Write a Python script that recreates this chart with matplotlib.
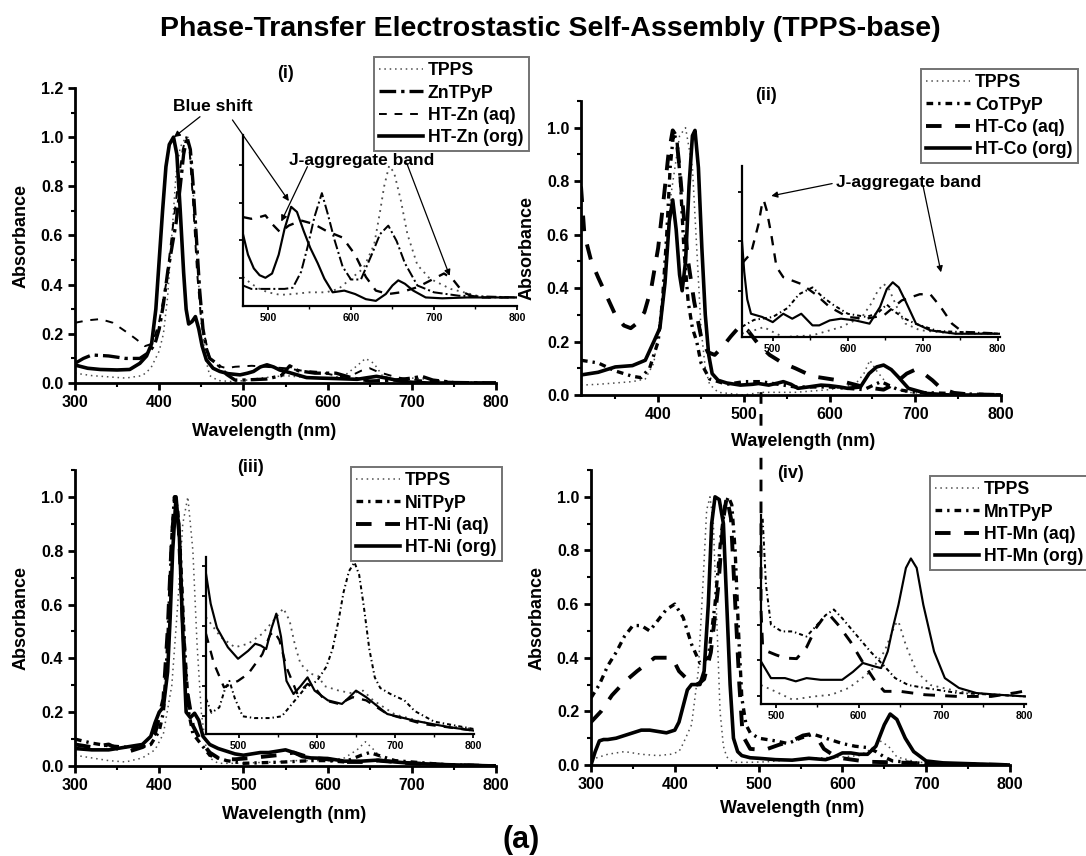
import numpy as np
import matplotlib.pyplot as plt
from matplotlib.ticker import MultipleLocator, FixedLocator, FormatStrFormatter

plt.rcParams['font.family'] = ['Liberation Sans', 'DejaVu Sans']
plt.rcParams['font.weight'] = 'bold'
plt.rcParams['axes.labelweight'] = 'bold'
plt.rcParams['axes.linewidth'] = 2.0

# ---------------- panel (i): TPPS / ZnTPyP / HT-Zn ----------------
i_tpps_x = [300, 320, 340, 360, 380, 390, 400, 405, 410, 415, 420, 425, 430, 434, 438, 442, 446, 450, 455, 460, 470, 490, 500, 520, 550, 580, 600, 620, 635, 645, 655, 665, 680, 700, 720, 740, 800]
i_tpps_y = [0.04, 0.03, 0.025, 0.02, 0.03, 0.06, 0.13, 0.2, 0.35, 0.6, 0.85, 0.96, 0.99, 1.0, 0.9, 0.7, 0.45, 0.25, 0.1, 0.03, 0.01, 0.005, 0.01, 0.02, 0.03, 0.02, 0.02, 0.03, 0.07, 0.1, 0.08, 0.03, 0.01, 0.02, 0.015, 0.005, 0.0]
i_zn_x = [300, 310, 320, 340, 360, 377, 388, 395, 400, 405, 410, 415, 420, 425, 429, 433, 437, 440, 444, 448, 452, 456, 460, 470, 480, 490, 500, 527, 545, 555, 565, 585, 610, 630, 650, 680, 700, 712, 725, 750, 800]
i_zn_y = [0.08, 0.1, 0.114, 0.11, 0.1, 0.1, 0.125, 0.16, 0.22, 0.32, 0.45, 0.55, 0.65, 0.8, 0.93, 1.0, 0.95, 0.82, 0.6, 0.38, 0.22, 0.14, 0.1, 0.075, 0.035, 0.012, 0.012, 0.016, 0.03, 0.07, 0.05, 0.04, 0.04, 0.02, 0.008, 0.012, 0.02, 0.027, 0.012, 0.002, 0.0]
i_aq_x = [300, 315, 330, 345, 360, 372, 383, 392, 400, 408, 415, 422, 428, 432, 436, 440, 445, 450, 460, 470, 480, 490, 510, 530, 550, 570, 590, 610, 625, 640, 650, 660, 680, 694, 720, 800]
i_aq_y = [0.245, 0.255, 0.26, 0.245, 0.21, 0.18, 0.15, 0.16, 0.25, 0.4, 0.6, 0.8, 0.95, 1.0, 0.95, 0.75, 0.45, 0.25, 0.1, 0.07, 0.06, 0.066, 0.07, 0.065, 0.06, 0.05, 0.045, 0.03, 0.025, 0.05, 0.06, 0.045, 0.025, 0.016, 0.008, 0.0]
i_org_x = [300, 315, 330, 350, 365, 377, 385, 391, 396, 400, 404, 408, 412, 417, 421, 425, 429, 432, 435, 439, 443, 447, 451, 456, 464, 472, 482, 496, 505, 512, 520, 528, 536, 543, 552, 560, 575, 590, 610, 635, 648, 658, 670, 686, 700, 720, 800]
i_org_y = [0.073, 0.06, 0.055, 0.053, 0.055, 0.08, 0.11, 0.16, 0.3, 0.5, 0.7, 0.88, 0.97, 1.0, 0.93, 0.7, 0.45, 0.3, 0.24, 0.25, 0.27, 0.22, 0.15, 0.094, 0.06, 0.047, 0.038, 0.033, 0.04, 0.047, 0.065, 0.074, 0.065, 0.053, 0.045, 0.037, 0.022, 0.02, 0.018, 0.015, 0.022, 0.027, 0.02, 0.008, 0.003, 0.0, 0.0]

# inset (i), relative units
i_tpps_ins_x = [470, 480, 490, 500, 515, 530, 550, 570, 585, 600, 615, 628, 635, 640, 646, 652, 660, 668, 680, 695, 720, 760, 800]
i_tpps_ins_y = [0.17, 0.13, 0.1, 0.08, 0.065, 0.07, 0.08, 0.08, 0.1, 0.16, 0.22, 0.36, 0.55, 0.7, 0.82, 0.78, 0.62, 0.42, 0.24, 0.16, 0.1, 0.05, 0.05]
i_zn_ins_x = [470, 480, 500, 520, 530, 540, 548, 556, 565, 572, 580, 590, 600, 612, 625, 635, 645, 655, 665, 680, 700, 730, 800]
i_zn_ins_y = [0.12, 0.1, 0.1, 0.1, 0.107, 0.2, 0.35, 0.52, 0.66, 0.54, 0.39, 0.23, 0.155, 0.155, 0.3, 0.42, 0.47, 0.38, 0.25, 0.12, 0.08, 0.06, 0.05]
i_aq_ins_x = [470, 480, 490, 497, 505, 515, 525, 540, 555, 570, 590, 605, 618, 630, 645, 660, 680, 700, 712, 722, 735, 750, 800]
i_aq_ins_y = [0.52, 0.51, 0.52, 0.53, 0.48, 0.43, 0.47, 0.5, 0.48, 0.44, 0.4, 0.3, 0.17, 0.09, 0.07, 0.08, 0.11, 0.16, 0.19, 0.16, 0.08, 0.05, 0.05]
i_org_ins_x = [470, 476, 483, 490, 497, 505, 513, 520, 528, 535, 543, 551, 560, 568, 578, 592, 605, 618, 630, 642, 650, 657, 665, 675, 690, 710, 740, 800]
i_org_ins_y = [0.42, 0.3, 0.22, 0.18, 0.165, 0.19, 0.3, 0.45, 0.58, 0.55, 0.44, 0.34, 0.25, 0.16, 0.08, 0.09, 0.07, 0.04, 0.03, 0.07, 0.12, 0.15, 0.13, 0.09, 0.05, 0.045, 0.05, 0.05]

# ---------------- panel (ii): TPPS / CoTPyP / HT-Co ----------------
ii_tpps_x = [310, 330, 350, 370, 385, 395, 405, 415, 425, 432, 440, 445, 450, 455, 460, 470, 500, 520, 560, 600, 630, 640, 647, 655, 670, 690, 720, 800]
ii_tpps_y = [0.037, 0.04, 0.045, 0.05, 0.06, 0.12, 0.35, 0.75, 0.97, 1.0, 0.85, 0.55, 0.25, 0.1, 0.04, 0.01, 0.0, 0.01, 0.01, 0.02, 0.04, 0.08, 0.13, 0.09, 0.03, 0.01, 0.005, 0.0]
ii_co_x = [310, 330, 350, 370, 380, 390, 400, 405, 410, 414, 418, 422, 426, 430, 435, 440, 445, 450, 460, 480, 500, 520, 540, 560, 600, 640, 660, 680, 700, 800]
ii_co_y = [0.13, 0.12, 0.09, 0.07, 0.065, 0.1, 0.2, 0.35, 0.6, 0.85, 0.98, 0.95, 0.8, 0.55, 0.35, 0.25, 0.2, 0.12, 0.06, 0.04, 0.05, 0.05, 0.04, 0.03, 0.03, 0.02, 0.05, 0.02, 0.01, 0.0]
ii_aq_x = [310, 314, 322, 330, 340, 350, 360, 368, 376, 384, 392, 400, 406, 412, 417, 421, 425, 429, 435, 442, 450, 458, 466, 475, 485, 496, 505, 517, 530, 545, 560, 580, 610, 640, 663, 675, 690, 700, 710, 720, 730, 745, 760, 800]
ii_aq_y = [0.78, 0.6, 0.5, 0.44, 0.37, 0.3, 0.26, 0.25, 0.27, 0.31, 0.4, 0.55, 0.72, 0.9, 0.99, 0.97, 0.85, 0.7, 0.5, 0.35, 0.22, 0.16, 0.15, 0.18, 0.22, 0.26, 0.24, 0.19, 0.15, 0.12, 0.1, 0.07, 0.055, 0.03, 0.02, 0.04, 0.08, 0.095, 0.08, 0.055, 0.025, 0.008, 0.003, 0.0]
ii_org_x = [310, 330, 350, 370, 385, 395, 402, 408, 413, 417, 421, 425, 428, 432, 436, 440, 443, 447, 451, 455, 459, 463, 470, 480, 496, 510, 517, 529, 540, 546, 555, 563, 575, 590, 600, 612, 621, 636, 646, 655, 663, 672, 680, 692, 713, 740, 800]
ii_org_y = [0.075, 0.085, 0.105, 0.11, 0.13, 0.2, 0.25, 0.42, 0.65, 0.73, 0.62, 0.45, 0.39, 0.5, 0.78, 0.97, 0.99, 0.85, 0.55, 0.3, 0.15, 0.08, 0.055, 0.045, 0.037, 0.04, 0.043, 0.037, 0.045, 0.05, 0.04, 0.025, 0.03, 0.037, 0.035, 0.03, 0.025, 0.03, 0.08, 0.105, 0.112, 0.095, 0.068, 0.025, 0.006, 0.0, 0.0]

ii_tpps_ins_x = [459, 476, 488, 500, 514, 553, 591, 619, 632, 640, 648, 655, 662, 670, 677, 696, 740, 803]
ii_tpps_ins_y = [0.02, 0.04, 0.058, 0.03, 0.0, 0.01, 0.058, 0.117, 0.2, 0.27, 0.31, 0.28, 0.21, 0.13, 0.078, 0.04, 0.02, 0.019]
ii_co_ins_x = [459, 475, 500, 520, 535, 553, 565, 580, 600, 625, 640, 652, 662, 675, 690, 720, 803]
ii_co_ins_y = [0.06, 0.1, 0.117, 0.17, 0.25, 0.29, 0.24, 0.19, 0.136, 0.117, 0.14, 0.19, 0.15, 0.11, 0.078, 0.035, 0.019]
ii_aq_ins_x = [459, 471, 481, 485, 488, 492, 498, 505, 514, 538, 557, 576, 600, 624, 648, 672, 696, 710, 724, 739, 753, 803]
ii_aq_ins_y = [0.43, 0.49, 0.66, 0.76, 0.8, 0.74, 0.6, 0.41, 0.35, 0.31, 0.25, 0.175, 0.117, 0.107, 0.126, 0.214, 0.25, 0.25, 0.175, 0.078, 0.03, 0.02]
ii_org_ins_x = [459, 462, 466, 471, 486, 500, 514, 526, 538, 553, 562, 576, 591, 610, 629, 643, 652, 660, 668, 677, 691, 710, 744, 803]
ii_org_ins_y = [0.56, 0.38, 0.22, 0.136, 0.117, 0.087, 0.136, 0.107, 0.136, 0.068, 0.068, 0.097, 0.107, 0.097, 0.078, 0.175, 0.28, 0.32, 0.29, 0.21, 0.078, 0.039, 0.019, 0.019]

# ---------------- panel (iii): TPPS / NiTPyP / HT-Ni ----------------
iii_tpps_x = [300, 320, 340, 360, 380, 395, 405, 415, 422, 428, 434, 440, 445, 450, 455, 460, 470, 490, 510, 540, 560, 600, 620, 635, 645, 655, 665, 690, 720, 800]
iii_tpps_y = [0.04, 0.03, 0.02, 0.015, 0.03, 0.06, 0.12, 0.3, 0.6, 0.9, 1.0, 0.8, 0.45, 0.2, 0.08, 0.03, 0.01, 0.01, 0.012, 0.015, 0.02, 0.02, 0.03, 0.06, 0.09, 0.06, 0.025, 0.01, 0.005, 0.0]
iii_ni_x = [300, 320, 340, 360, 380, 390, 400, 405, 410, 415, 418, 422, 425, 430, 435, 440, 445, 450, 460, 480, 500, 520, 550, 580, 600, 620, 640, 650, 660, 680, 700, 740, 800]
iii_ni_y = [0.1, 0.085, 0.075, 0.07, 0.07, 0.08, 0.13, 0.2, 0.45, 0.85, 1.0, 0.95, 0.8, 0.45, 0.2, 0.12, 0.1, 0.08, 0.04, 0.02, 0.01, 0.012, 0.015, 0.02, 0.02, 0.015, 0.04, 0.05, 0.04, 0.02, 0.015, 0.005, 0.0]
iii_aq_x = [300, 320, 340, 360, 380, 395, 405, 410, 415, 419, 423, 427, 432, 440, 450, 460, 470, 480, 490, 510, 525, 540, 560, 580, 600, 620, 640, 660, 680, 700, 740, 800]
iii_aq_y = [0.08, 0.07, 0.08, 0.05, 0.07, 0.12, 0.25, 0.5, 0.85, 1.0, 0.9, 0.6, 0.3, 0.15, 0.09, 0.05, 0.03, 0.025, 0.025, 0.03, 0.035, 0.04, 0.05, 0.03, 0.025, 0.015, 0.015, 0.02, 0.015, 0.01, 0.004, 0.0]
iii_org_x = [300, 320, 340, 360, 380, 390, 395, 400, 405, 410, 413, 416, 420, 424, 428, 432, 437, 442, 447, 452, 460, 470, 480, 490, 500, 510, 520, 530, 540, 550, 560, 570, 580, 600, 620, 640, 660, 680, 700, 740, 800]
iii_org_y = [0.065, 0.06, 0.06, 0.07, 0.08, 0.11, 0.16, 0.2, 0.22, 0.35, 0.55, 0.8, 1.0, 0.85, 0.5, 0.2, 0.18, 0.196, 0.17, 0.11, 0.08, 0.065, 0.055, 0.045, 0.04, 0.045, 0.05, 0.05, 0.055, 0.06, 0.05, 0.035, 0.03, 0.028, 0.018, 0.018, 0.022, 0.015, 0.01, 0.005, 0.0]

iii_tpps_ins_x = [458, 477, 495, 512, 530, 548, 557, 565, 572, 579, 592, 601, 610, 628, 645, 659, 672, 700, 745, 801]
iii_tpps_ins_y = [0.66, 0.547, 0.49, 0.51, 0.566, 0.66, 0.71, 0.64, 0.5, 0.396, 0.34, 0.33, 0.27, 0.245, 0.23, 0.245, 0.19, 0.11, 0.057, 0.028]
iii_ni_ins_x = [458, 465, 475, 482, 488, 495, 505, 520, 540, 555, 570, 585, 600, 612, 620, 628, 634, 641, 648, 654, 660, 667, 674, 681, 694, 712, 725, 750, 801]
iii_ni_ins_y = [0.2, 0.12, 0.15, 0.25, 0.3, 0.2, 0.1, 0.09, 0.09, 0.1, 0.18, 0.26, 0.3, 0.38, 0.48, 0.65, 0.8, 0.92, 0.97, 0.9, 0.72, 0.48, 0.32, 0.26, 0.226, 0.19, 0.13, 0.07, 0.028]
iii_aq_ins_x = [458, 468, 481, 499, 512, 530, 540, 545, 552, 561, 575, 588, 597, 610, 628, 646, 663, 690, 735, 801]
iii_aq_ins_y = [0.566, 0.4, 0.264, 0.3, 0.34, 0.45, 0.56, 0.58, 0.53, 0.377, 0.226, 0.283, 0.264, 0.19, 0.17, 0.208, 0.19, 0.113, 0.057, 0.019]
iii_org_ins_x = [458, 464, 472, 486, 499, 512, 521, 528, 535, 542, 548, 554, 561, 570, 579, 588, 597, 614, 632, 642, 650, 663, 690, 725, 770, 801]
iii_org_ins_y = [0.906, 0.736, 0.6, 0.49, 0.425, 0.47, 0.51, 0.5, 0.48, 0.6, 0.68, 0.55, 0.3, 0.226, 0.27, 0.32, 0.245, 0.19, 0.17, 0.21, 0.245, 0.208, 0.113, 0.075, 0.038, 0.019]

# ---------------- panel (iv): TPPS / MnTPyP / HT-Mn ----------------
iv_tpps_x = [300, 320, 340, 360, 380, 395, 405, 410, 420, 428, 434, 438, 442, 446, 450, 454, 458, 462, 470, 490, 510, 540, 560, 600, 620, 635, 645, 655, 665, 690, 800]
iv_tpps_y = [0.02, 0.04, 0.05, 0.04, 0.035, 0.04, 0.05, 0.08, 0.15, 0.35, 0.7, 0.95, 1.0, 0.9, 0.55, 0.2, 0.07, 0.03, 0.01, 0.01, 0.012, 0.02, 0.025, 0.03, 0.035, 0.06, 0.09, 0.07, 0.03, 0.01, 0.0]
iv_mn_x = [300, 310, 320, 330, 340, 350, 360, 370, 380, 390, 400, 410, 420, 430, 440, 448, 455, 460, 464, 468, 472, 476, 480, 485, 490, 500, 520, 535, 550, 565, 580, 600, 615, 630, 640, 650, 660, 680, 700, 800]
iv_mn_y = [0.25, 0.3, 0.37, 0.42, 0.48, 0.52, 0.52, 0.5, 0.54, 0.58, 0.6, 0.55, 0.45, 0.38, 0.4, 0.6, 0.85, 0.97, 1.0, 0.97, 0.8, 0.5, 0.25, 0.15, 0.12, 0.1, 0.09, 0.08, 0.1, 0.115, 0.1, 0.08, 0.07, 0.065, 0.05, 0.03, 0.015, 0.01, 0.005, 0.0]
iv_aq_x = [300, 312, 325, 340, 355, 376, 397, 405, 418, 427, 435, 443, 452, 458, 462, 467, 471, 477, 481, 490, 507, 524, 540, 553, 562, 570, 578, 590, 600, 630, 660, 700, 800]
iv_aq_y = [0.16, 0.2, 0.26, 0.31, 0.35, 0.4, 0.4, 0.35, 0.31, 0.3, 0.32, 0.42, 0.67, 0.92, 1.0, 0.92, 0.67, 0.3, 0.11, 0.06, 0.056, 0.075, 0.09, 0.11, 0.115, 0.1, 0.06, 0.035, 0.025, 0.012, 0.01, 0.005, 0.0]
iv_org_x = [300, 305, 310, 315, 320, 330, 340, 350, 360, 370, 380, 390, 400, 405, 410, 415, 420, 425, 430, 435, 440, 444, 448, 453, 458, 462, 466, 470, 475, 480, 490, 500, 520, 540, 560, 580, 590, 600, 610, 620, 630, 640, 650, 657, 665, 675, 685, 700, 720, 800]
iv_org_y = [0.0, 0.05, 0.09, 0.095, 0.095, 0.1, 0.11, 0.12, 0.13, 0.13, 0.125, 0.12, 0.13, 0.16, 0.22, 0.28, 0.3, 0.3, 0.3, 0.35, 0.6, 0.9, 1.0, 0.99, 0.9, 0.6, 0.3, 0.1, 0.05, 0.035, 0.027, 0.025, 0.02, 0.018, 0.025, 0.02, 0.03, 0.045, 0.045, 0.04, 0.04, 0.07, 0.15, 0.19, 0.17, 0.1, 0.05, 0.015, 0.008, 0.0]

iv_tpps_ins_x = [482, 499, 520, 546, 567, 588, 614, 631, 644, 648, 657, 670, 687, 720, 765, 802]
iv_tpps_ins_y = [0.1, 0.067, 0.023, 0.04, 0.049, 0.085, 0.17, 0.278, 0.42, 0.437, 0.31, 0.17, 0.1, 0.067, 0.049, 0.04]
iv_mn_ins_x = [484, 488, 494, 507, 520, 537, 550, 560, 570, 580, 597, 614, 631, 644, 660, 680, 720, 765, 802]
iv_mn_ins_y = [0.98, 0.63, 0.42, 0.384, 0.384, 0.357, 0.42, 0.47, 0.5, 0.454, 0.366, 0.278, 0.2, 0.137, 0.1, 0.085, 0.058, 0.049, 0.04]
iv_aq_ins_x = [482, 482, 484, 490, 500, 511, 525, 537, 548, 558, 565, 575, 590, 605, 620, 631, 650, 680, 720, 760, 790, 802]
iv_aq_ins_y = [1.65, 0.5, 0.3, 0.278, 0.26, 0.243, 0.24, 0.3, 0.4, 0.46, 0.47, 0.42, 0.33, 0.22, 0.12, 0.067, 0.067, 0.049, 0.04, 0.04, 0.06, 0.07]
iv_org_ins_x = [482, 494, 511, 524, 537, 554, 580, 593, 605, 618, 627, 635, 641, 648, 657, 663, 670, 678, 691, 704, 721, 742, 768, 802]
iv_org_ins_y = [0.225, 0.137, 0.137, 0.12, 0.137, 0.128, 0.128, 0.17, 0.217, 0.2, 0.19, 0.278, 0.4, 0.525, 0.72, 0.77, 0.72, 0.525, 0.278, 0.137, 0.085, 0.058, 0.049, 0.04]

W, H = 1086, 856
fig = plt.figure(figsize=(W / 100, H / 100), dpi=100)


def px_axes(l, t, r, b):
    return fig.add_axes([l / W, 1 - b / H, (r - l) / W, (b - t) / H])


st_tpps = dict(color='0.3', lw=1.1, ls=(0, (1, 2.5)))
st_zn = dict(color='k', lw=2.4, ls=(0, (5, 1.5, 1, 1.5)))
st_zn_aq = dict(color='k', lw=1.4, ls=(0, (4, 4)))
st_dd = dict(color='k', lw=2.4, ls=(0, (2, 1.5, 0.7, 1.5)))
st_aq = dict(color='k', lw=2.8, ls=(0, (4, 3.5)))
st_org = dict(color='k', lw=2.6, ls='-')


def thin(st, f=0.6):
    d = dict(st)
    d['lw'] = st['lw'] * f
    return d


def style_main(ax, xlim, ylim, xlab_x, xlab_y):
    ax.set_xlim(*xlim)
    ax.set_ylim(*ylim)
    ax.patch.set_alpha(0)
    for s in ['top', 'right']:
        ax.spines[s].set_visible(False)
    ax.xaxis.set_major_locator(MultipleLocator(100))
    ax.xaxis.set_minor_locator(MultipleLocator(50))
    ax.yaxis.set_major_locator(MultipleLocator(0.2))
    ax.yaxis.set_minor_locator(MultipleLocator(0.1))
    ax.yaxis.set_major_formatter(FormatStrFormatter('%.1f'))
    ax.tick_params(which='major', direction='out', length=5, width=2, labelsize=11.5)
    ax.tick_params(which='minor', direction='out', length=3, width=1.5)
    ax.set_xlabel('Wavelength (nm)', fontsize=13)
    ax.set_ylabel('Absorbance', fontsize=13, labelpad=8)
    ax.xaxis.set_label_coords(xlab_x, xlab_y)


def style_inset(ax, xlim, yt):
    ax.set_xlim(*xlim)
    ax.set_ylim(0, 1)
    ax.patch.set_alpha(0)
    for s in ['top', 'right']:
        ax.spines[s].set_visible(False)
    for s in ['left', 'bottom']:
        ax.spines[s].set_linewidth(1.6)
    ax.xaxis.set_major_locator(MultipleLocator(100))
    ax.xaxis.set_minor_locator(MultipleLocator(50))
    ax.yaxis.set_major_locator(FixedLocator(yt))
    ax.set_yticklabels([])
    ax.tick_params(which='major', direction='out', length=3, width=1.3, labelsize=7.5, pad=2)
    ax.tick_params(which='minor', direction='out', length=2, width=1.0)


def add_legend(ax, l, t):
    leg = ax.legend(loc='upper left', bbox_to_anchor=(l / W, 1 - t / H),
                    bbox_transform=fig.transFigure, borderaxespad=0,
                    prop={'weight': 'bold', 'size': 12.7}, handlelength=2.5,
                    handletextpad=0.25, borderpad=0.3, labelspacing=0.3,
                    fancybox=False, framealpha=1, edgecolor='0.45')
    leg.get_frame().set_linewidth(1.4)


# panel (i)
ax1 = px_axes(75, 88, 496, 383)
ax1.plot(i_tpps_x, i_tpps_y, label='TPPS', **st_tpps)
ax1.plot(i_zn_x, i_zn_y, label='ZnTPyP', **st_zn)
ax1.plot(i_aq_x, i_aq_y, label='HT-Zn (aq)', **st_zn_aq)
ax1.plot(i_org_x, i_org_y, label='HT-Zn (org)', **st_org)
style_main(ax1, (300, 800), (0, 1.2), 0.45, -0.135)
add_legend(ax1, 374, 57)

# panel (ii)
ax2 = px_axes(581, 101, 1001, 395)
ax2.plot(ii_tpps_x, ii_tpps_y, label='TPPS', **st_tpps)
ax2.plot(ii_co_x, ii_co_y, label='CoTPyP', **st_dd)
ax2.plot(ii_aq_x, ii_aq_y, label='HT-Co (aq)', **st_aq)
ax2.plot(ii_org_x, ii_org_y, label='HT-Co (org)', **st_org)
style_main(ax2, (310, 800), (0, 1.1), 0.53, -0.13)
add_legend(ax2, 921, 69)

# panel (iii)
ax3 = px_axes(75, 470, 496, 766)
ax3.plot(iii_tpps_x, iii_tpps_y, label='TPPS', **st_tpps)
ax3.plot(iii_ni_x, iii_ni_y, label='NiTPyP', **st_dd)
ax3.plot(iii_aq_x, iii_aq_y, label='HT-Ni (aq)', **st_aq)
ax3.plot(iii_org_x, iii_org_y, label='HT-Ni (org)', **st_org)
style_main(ax3, (300, 800), (0, 1.1), 0.52, -0.135)
add_legend(ax3, 351, 467)

# panel (iv)
ax4 = px_axes(591, 470, 1010, 765)
ax4.plot(iv_tpps_x, iv_tpps_y, label='TPPS', **st_tpps)
ax4.plot(iv_mn_x, iv_mn_y, label='MnTPyP', **st_dd)
ax4.plot(iv_aq_x, iv_aq_y, label='HT-Mn (aq)', **st_aq)
ax4.plot(iv_org_x, iv_org_y, label='HT-Mn (org)', **st_org)
style_main(ax4, (300, 800), (0, 1.1), 0.48, -0.12)
add_legend(ax4, 930, 476)

# insets
in1 = px_axes(243, 135, 517, 306)
in1.plot(i_tpps_ins_x, i_tpps_ins_y, **thin(st_tpps, 1.2))
in1.plot(i_zn_ins_x, i_zn_ins_y, **thin(st_zn))
in1.plot(i_aq_ins_x, i_aq_ins_y, **thin(st_aq))
in1.plot(i_org_ins_x, i_org_ins_y, **thin(st_org))
style_inset(in1, (470, 800), [0.165, 0.385, 0.605, 0.825])

in2 = px_axes(742, 166, 1000, 337)
in2.plot(ii_tpps_ins_x, ii_tpps_ins_y, **thin(st_tpps, 1.2))
in2.plot(ii_co_ins_x, ii_co_ins_y, **thin(st_dd))
in2.plot(ii_aq_ins_x, ii_aq_ins_y, **thin(st_aq))
in2.plot(ii_org_ins_x, ii_org_ins_y, **thin(st_org))
style_inset(in2, (459, 803), [0.27, 0.56, 0.85])

in3 = px_axes(206, 557, 474, 734)
in3.plot(iii_tpps_ins_x, iii_tpps_ins_y, **thin(st_tpps, 1.2))
in3.plot(iii_ni_ins_x, iii_ni_ins_y, **thin(st_dd))
in3.plot(iii_aq_ins_x, iii_aq_ins_y, **thin(st_aq))
in3.plot(iii_org_ins_x, iii_org_ins_y, **thin(st_org))
style_inset(in3, (458, 801), [0.1, 0.27, 0.44, 0.61, 0.78, 0.95])

in4 = px_axes(761, 515, 1026, 704)
in4.plot(iv_tpps_ins_x, iv_tpps_ins_y, **thin(st_tpps, 1.2))
in4.plot(iv_mn_ins_x, iv_mn_ins_y, **thin(st_dd))
in4.plot(iv_aq_ins_x, iv_aq_ins_y, clip_on=False, **thin(st_aq, 0.75))
in4.plot(iv_org_ins_x, iv_org_ins_y, **thin(st_org))
style_inset(in4, (482, 802), [0.04, 0.234, 0.419, 0.613, 0.806])

# annotations
arr = dict(arrowstyle='-|>', color='k', lw=0.9, mutation_scale=9, shrinkA=0, shrinkB=0)
ax1.annotate('Blue shift', xy=(417.5, 1.0), xytext=(464, 1.125), ha='center', va='center',
             fontsize=12.5, fontweight='bold', arrowprops=arr, annotation_clip=False)
ax1.annotate('', xy=(554, 0.74), xytext=(487, 1.07), arrowprops=arr, annotation_clip=False)
ax1.text(641, 0.907, 'J-aggregate band', ha='center', va='center', fontsize=12.5, fontweight='bold')
ax1.annotate('', xy=(545, 0.657), xytext=(576, 0.88), arrowprops=arr)
ax1.annotate('', xy=(745, 0.436), xytext=(694, 0.894), arrowprops=arr)

ax2.text(692, 0.795, 'J-aggregate band', ha='center', va='center', fontsize=12.5, fontweight='bold')
ax2.annotate('', xy=(532, 0.745), xytext=(603, 0.791), arrowprops=arr)
ax2.annotate('', xy=(730, 0.459), xytext=(709, 0.783), arrowprops=arr)

# panel tags and titles
fig.text(286 / W, 1 - 73 / H, '(i)', ha='center', va='center', fontsize=13, fontweight='bold')
fig.text(766 / W, 1 - 96 / H, '(ii)', ha='center', va='center', fontsize=13, fontweight='bold')
fig.text(251 / W, 1 - 467 / H, '(iii)', ha='center', va='center', fontsize=13, fontweight='bold')
fig.text(791 / W, 1 - 473 / H, '(iv)', ha='center', va='center', fontsize=13, fontweight='bold')
fig.text(0.507, 1 - 29 / H, 'Phase-Transfer Electrostastic Self-Assembly (TPPS-base)',
         ha='center', va='center', fontsize=20.5, fontweight='bold')
fig.text(521 / W, 1 - 840 / H, '(a)', ha='center', va='center', fontsize=22, fontweight='bold')

fig.savefig('out.png', dpi=100)
